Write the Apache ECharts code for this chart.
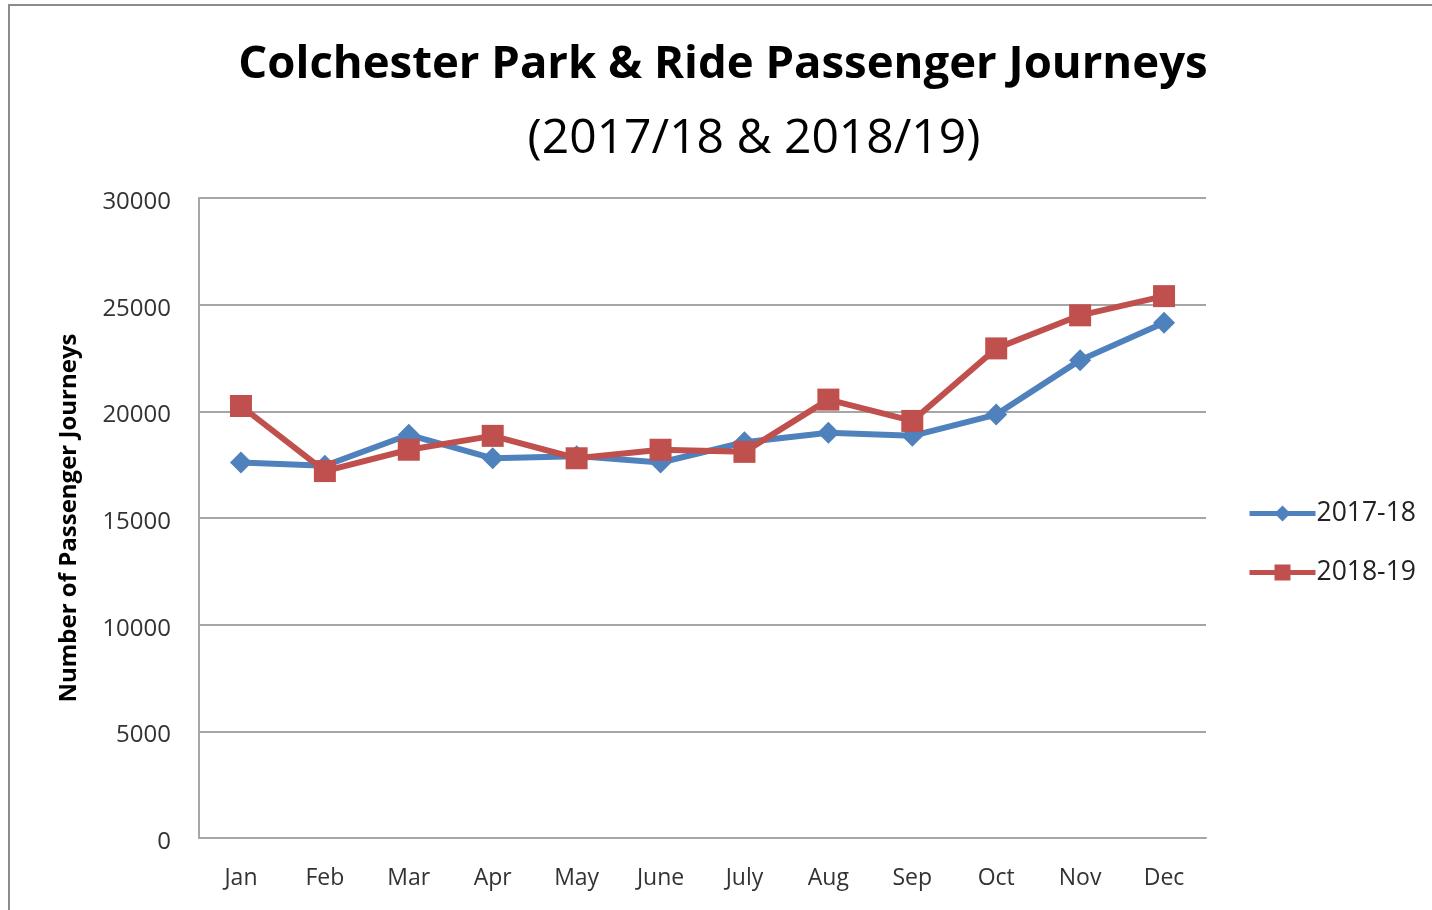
<!DOCTYPE html>
<html>
<head>
<meta charset="utf-8">
<script src="https://cdn.jsdelivr.net/npm/echarts@6/dist/echarts.min.js"></script>
<style>
  html, body { margin: 0; padding: 0; background: #fff; }
  #chart { width: 1432px; height: 910px; }
</style>
</head>
<body>
<div id="chart"></div>
<script>
// Monthly passenger journeys, Colchester Park & Ride
const months = ['Jan', 'Feb', 'Mar', 'Apr', 'May', 'June', 'July', 'Aug', 'Sep', 'Oct', 'Nov', 'Dec'];
const journeys2017 = [17600, 17450, 18900, 17800, 17900, 17600, 18550, 19000, 18850, 19850, 22400, 24150];
const journeys2018 = [20250, 17200, 18200, 18850, 17800, 18200, 18100, 20550, 19550, 22950, 24500, 25400];
const yTicks = { min: 0, max: 30000, interval: 5000 };

const FONT = '"Open Sans", "Noto Sans", sans-serif';
const blue = '#4f81bd';
const red = '#c0504d';

const chart = echarts.init(document.getElementById('chart'), null, { renderer: 'canvas' });

chart.setOption({
  backgroundColor: '#ffffff',
  animation: false,
  graphic: [
    {
      type: 'rect',
      shape: { x: 9, y: 5, width: 1440, height: 920 },
      style: { fill: 'none', stroke: '#8c8c8c', lineWidth: 2 },
      silent: true
    },
    {
      type: 'text',
      x: 723, y: 65,
      style: {
        text: 'Colchester Park & Ride Passenger Journeys',
        font: 'bold 45.5px ' + FONT,
        fill: '#000',
        align: 'center',
        verticalAlign: 'middle'
      }
    },
    {
      type: 'text',
      x: 754, y: 139,
      style: {
        text: '(2017/18 & 2018/19)',
        font: '48px ' + FONT,
        fill: '#000',
        align: 'center',
        verticalAlign: 'middle'
      }
    }
  ],
  legend: {
    orient: 'vertical',
    left: 1242,
    top: 495,
    itemWidth: 66,
    itemHeight: 20,
    itemGap: 32,
    lineStyle: { width: 5 },
    textStyle: { fontFamily: FONT, fontSize: 26.5, color: '#222', padding: [0, 0, 0, -4] },
    data: ['2017-18', '2018-19']
  },
  grid: { left: 199, right: 226, top: 198, bottom: 72, containLabel: false },
  xAxis: {
    type: 'category',
    data: months,
    boundaryGap: true,
    axisLine: { show: true, lineStyle: { color: '#a6a6a6', width: 2 } },
    axisTick: { show: false },
    axisLabel: { fontFamily: FONT, fontSize: 23, color: '#333', margin: 29 }
  },
  yAxis: {
    type: 'value',
    min: yTicks.min,
    max: yTicks.max,
    interval: yTicks.interval,
    name: 'Number of Passenger Journeys',
    nameLocation: 'middle',
    nameGap: 118,
    nameTextStyle: { fontFamily: FONT, fontSize: 24, fontWeight: 'bold', color: '#000' },
    axisLine: { show: true, lineStyle: { color: '#a6a6a6', width: 2 } },
    axisTick: { show: false },
    axisLabel: {
      fontFamily: FONT, fontSize: 24, color: '#333', margin: 28,
      verticalAlign: 'top',
      lineHeight: 8,
      formatter: v => String(v)
    },
    splitLine: { show: true, lineStyle: { color: '#a6a6a6', width: 2 } }
  },
  series: [
    {
      name: '2017-18',
      type: 'line',
      data: journeys2017,
      symbol: 'diamond',
      symbolSize: 22,
      itemStyle: { color: blue },
      lineStyle: { color: blue, width: 6 },
      z: 2
    },
    {
      name: '2018-19',
      type: 'line',
      data: journeys2018,
      symbol: 'rect',
      symbolSize: 22,
      itemStyle: { color: red },
      lineStyle: { color: red, width: 6 },
      z: 3
    }
  ]
});
</script>
</body>
</html>
